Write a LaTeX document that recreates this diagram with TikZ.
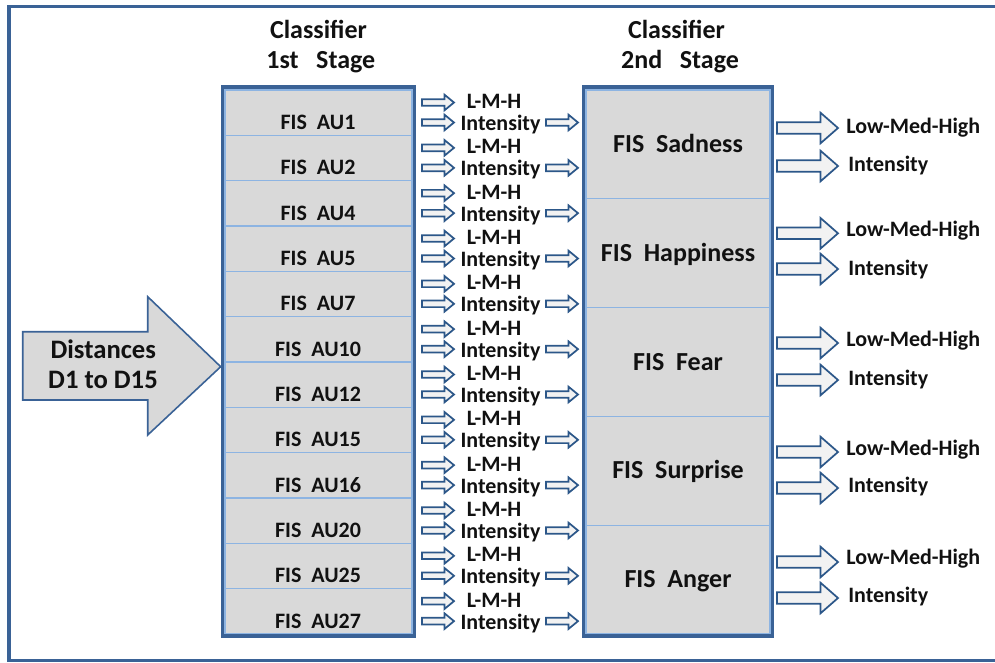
\documentclass[tikz,border=0pt]{standalone}
\usepackage{fontspec}
\setmainfont{Carlito}
\definecolor{frameblue}{HTML}{3A6296}
\definecolor{cellline}{HTML}{8DB4E2}
\definecolor{cellfill}{HTML}{D9D9D9}
\definecolor{arrowfill}{HTML}{F2F2F2}
\definecolor{arrowblue}{HTML}{2C5789}
\definecolor{inkblack}{HTML}{111111}
\tikzset{
  outerframe/.style={draw=frameblue, line width=2.3pt},
  stagefill/.style={fill=cellfill},
  stageedge/.style={draw=frameblue, line width=2.4pt},
  cellbox/.style={draw=cellline, line width=0.8pt, fill=cellfill},
  txt/.style={inner sep=0pt, text=inkblack, anchor=base},
  heading/.style={txt, font=\fontsize{19.5}{22}\selectfont\bfseries},
  aulabel/.style={txt, font=\fontsize{16.5}{18}\selectfont\bfseries},
  smalllabel/.style={txt, font=\fontsize{16.5}{18}\selectfont\bfseries},
  emolabel/.style={txt, font=\fontsize{19.5}{22}\selectfont\bfseries},
  outlabel/.style={txt, anchor=base west, font=\fontsize{16.5}{18}\selectfont\bfseries},
  distlabel/.style={txt, font=\fontsize{20}{22}\selectfont\bfseries},
  arrowline/.style={draw=arrowblue, line width=1.3pt, fill=arrowfill, line join=miter},
  pics/smallarr/.style={code={
    \path[arrowline] (-16,-3.3) -- (6.5,-3.3) -- (6.5,-7.8) -- (16,0)
      -- (6.5,7.8) -- (6.5,3.3) -- (-16,3.3) -- cycle;}},
  pics/bigarr/.style={code={
    \path[arrowline] (-30.5,-5.8) -- (13,-5.8) -- (13,-15.3) -- (30.5,0)
      -- (13,15.3) -- (13,5.8) -- (-30.5,5.8) -- cycle;}},
}
\begin{document}
\begin{tikzpicture}[x=0.75pt,y=-0.75pt]
\useasboundingbox (0,0) rectangle (995,662);

% outer frame, open to the right
\begin{scope}
  \clip (0,0) rectangle (995,662);
  \draw[outerframe] (9,6.7) rectangle (1010,660.5);
\end{scope}

% headings
\node[heading] (h1a) at (318.5,38.3) {Classifier};
\node[heading] (h1b) at (320.8,68.3) {1st\ \ \ Stage};
\node[heading] (h2a) at (676.5,38.3) {Classifier};
\node[heading] (h2b) at (680,68.3) {2nd\ \ \ Stage};

% input arrow
\draw[draw=frameblue, line width=1.2pt, fill=cellfill, line join=miter]
  (22.7,331.7) -- (147.7,331.7) -- (147.7,296.7) -- (220.7,366.7)
  -- (147.7,435) -- (147.7,400) -- (22.7,400) -- cycle;
\node[distlabel] (dist1) at (103.3,358.3) {Distances};
\node[distlabel] (dist2) at (103,388.3) {D1 to D15};

% first stage: action unit classifiers
\fill[stagefill] (222.5,87) rectangle (414.5,636);
\foreach \lab [count=\i from 0] in {AU1,AU2,AU4,AU5,AU7,AU10,AU12,AU15,AU16,AU20,AU25,AU27} {
  \pgfmathsetmacro\rtop{90+45.33*\i}
  \draw[cellbox] (225,\rtop) rectangle (412,\rtop+45.33);
  \node[aulabel] (au\i) at (318,\rtop+39.5) {FIS~~\lab};
  \pic at (438,\rtop+12.5) {smallarr};
  \pic at (438,\rtop+32.5) {smallarr};
  \pic at (562,\rtop+32.5) {smallarr};
  \node[smalllabel] (lmh\i) at (494,\rtop+18.5) {L-M-H};
  \node[smalllabel] (int\i) at (500.5,\rtop+40.5) {Intensity};
}
\draw[stageedge] (222.5,87) rectangle (414.5,636);

% second stage: emotion classifiers
\fill[stagefill] (583.5,87) rectangle (772.5,636);
\foreach \emo/\ya/\yb/\ba/\bb [count=\j from 0] in
  {Sadness/128/166/133.3/171.7, Happiness/233.3/269/236.7/275,
   Fear/343/380/346/385, Surprise/452/488/455/492.3, Anger/562/598/564/602.7} {
  \pgfmathsetmacro\rtop{90+108.8*\j}
  \draw[cellbox] (586,\rtop) rectangle (770,\rtop+108.8);
  \node[emolabel] (emo\j) at (678,\rtop+62.5) {FIS~~\emo};
  \pic at (807.5,\ya) {bigarr};
  \pic at (807.5,\yb) {bigarr};
  \node[outlabel] (out\j a) at (846,\ba) {Low-Med-High};
  \node[outlabel] (out\j b) at (848,\bb) {Intensity};
}
\draw[stageedge] (583.5,87) rectangle (772.5,636);
\end{tikzpicture}
\end{document}
